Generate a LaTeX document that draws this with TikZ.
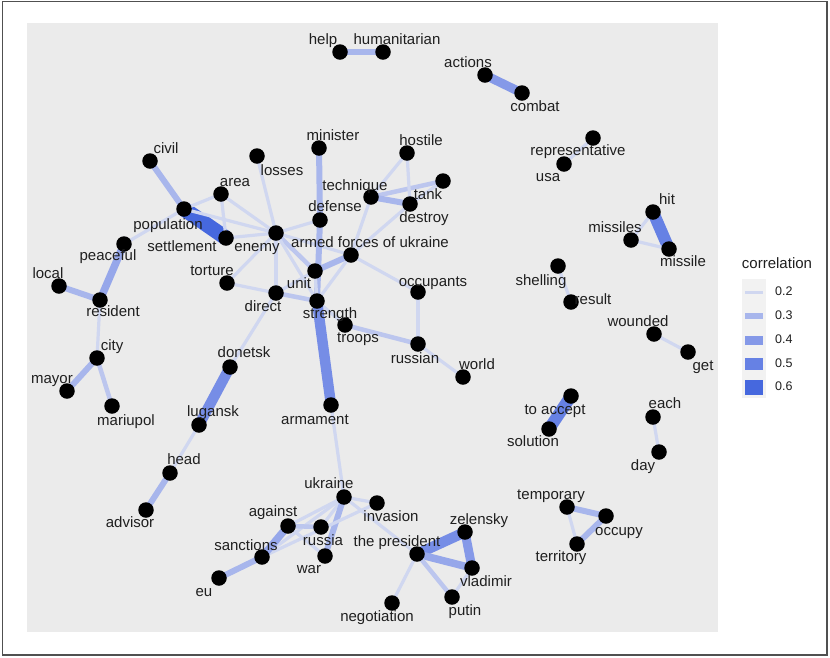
\documentclass[tikz,border=0pt]{standalone}
\usepackage{fontspec}
\setmainfont{Liberation Sans}
\pgfdeclarelayer{bg}
\pgfdeclarelayer{edges}
\pgfsetlayers{bg,edges,main}
\definecolor{cA}{RGB}{208,215,240}
\definecolor{cB}{RGB}{188,198,238}
\definecolor{cC}{RGB}{168,182,236}
\definecolor{cD}{RGB}{150,167,234}
\definecolor{cE}{RGB}{133,153,232}
\definecolor{cF}{RGB}{118,141,230}
\definecolor{cG}{RGB}{102,129,228}
\definecolor{cH}{RGB}{70,104,222}
\definecolor{panelgray}{RGB}{235,235,235}
\definecolor{keygray}{RGB}{242,242,242}
\definecolor{framegray}{RGB}{80,80,80}
\newcommand\edg[3]{\draw[#1] (#2.center) -- (#3.center);}
\begin{document}
\begin{tikzpicture}[x={(1pt,0pt)},y={(0pt,-1pt)},
  dot/.style={circle,fill=black,inner sep=0pt,minimum size=15.5pt},
  lbl/.style={inner sep=0pt,text height=10.8pt,text depth=3.1pt,font=\fontsize{15}{18}\selectfont,text=black!88},
  klbl/.style={inner sep=0pt,anchor=west,text height=9pt,text depth=2.5pt,font=\fontsize{12.5}{15}\selectfont,text=black!88},
  ea/.style={cA,line width=3.2pt},
  eb/.style={cB,line width=4.5pt},
  ec/.style={cC,line width=6pt},
  ed/.style={cD,line width=7.5pt},
  ee/.style={cE,line width=9pt},
  ef/.style={cF,line width=10.5pt},
  eg/.style={cG,line width=12pt},
  eh/.style={cH,line width=15pt}]
\useasboundingbox (0,0) rectangle (830,657);
\begin{pgfonlayer}{bg}
\fill[white] (0,0) rectangle (830,657);
\draw[framegray,line width=1.5pt] (2.5,1.5) rectangle (827,655);
\fill[panelgray] (27,23) rectangle (718,632);
\end{pgfonlayer}

% dots
\node[dot] (help) at (340,52) {};
\node[dot] (humanitarian) at (383,52) {};
\node[dot] (actions) at (485,75) {};
\node[dot] (combat) at (522,93) {};
\node[dot] (civil) at (150,161) {};
\node[dot] (losses) at (257,156) {};
\node[dot] (area) at (221,194) {};
\node[dot] (population) at (184,209) {};
\node[dot] (settlement) at (226,238) {};
\node[dot] (enemy) at (276,233) {};
\node[dot] (peaceful) at (124,244) {};
\node[dot] (local) at (59,286) {};
\node[dot] (resident) at (100,300) {};
\node[dot] (torture) at (227,283) {};
\node[dot] (direct) at (276,293) {};
\node[dot] (unit) at (315,271) {};
\node[dot] (minister) at (319,148) {};
\node[dot] (hostile) at (407,153) {};
\node[dot] (technique) at (371,197) {};
\node[dot] (tank) at (443,181) {};
\node[dot] (destroy) at (410,204) {};
\node[dot] (defense) at (320,220) {};
\node[dot] (afu) at (351,255) {};
\node[dot] (strength) at (317,301) {};
\node[dot] (occupants) at (418,292) {};
\node[dot] (troops) at (345,325) {};
\node[dot] (russian) at (418,344) {};
\node[dot] (world) at (463,377) {};
\node[dot] (armament) at (331,405) {};
\node[dot] (city) at (97,358) {};
\node[dot] (mayor) at (67,391) {};
\node[dot] (mariupol) at (112,406) {};
\node[dot] (donetsk) at (230,367) {};
\node[dot] (lugansk) at (199,425) {};
\node[dot] (head) at (170,473) {};
\node[dot] (advisor) at (146,510) {};
\node[dot] (ukraine) at (344,497) {};
\node[dot] (invasion) at (377,503) {};
\node[dot] (against) at (288,526) {};
\node[dot] (russia) at (321,527) {};
\node[dot] (sanctions) at (262,557) {};
\node[dot] (war) at (325,556) {};
\node[dot] (eu) at (219,578) {};
\node[dot] (president) at (417,554) {};
\node[dot] (zelensky) at (465,532) {};
\node[dot] (vladimir) at (472,568) {};
\node[dot] (putin) at (452,597) {};
\node[dot] (negotiation) at (392,603) {};
\node[dot] (temporary) at (567,507) {};
\node[dot] (occupy) at (606,516) {};
\node[dot] (territory) at (577,544) {};
\node[dot] (representative) at (593,138) {};
\node[dot] (usa) at (564,164) {};
\node[dot] (hit) at (653,212) {};
\node[dot] (missiles) at (631,240) {};
\node[dot] (missile) at (669,249) {};
\node[dot] (shelling) at (558,266) {};
\node[dot] (result) at (571,302) {};
\node[dot] (wounded) at (654,334) {};
\node[dot] (get) at (688,352) {};
\node[dot] (toaccept) at (571,396) {};
\node[dot] (solution) at (549,429) {};
\node[dot] (each) at (653,417) {};
\node[dot] (day) at (659,452) {};

% edges
\begin{pgfonlayer}{edges}
\edg{ec}{help}{humanitarian}
\edg{ee}{actions}{combat}
\edg{ea}{representative}{usa}
\edg{eg}{hit}{missile}
\edg{ea}{hit}{missiles}
\edg{ea}{missiles}{missile}
\edg{ea}{shelling}{result}
\edg{ea}{wounded}{get}
\edg{eg}{toaccept}{solution}
\edg{ea}{each}{day}
\edg{ec}{temporary}{occupy}
\edg{ec}{occupy}{territory}
\edg{ea}{temporary}{territory}
\edg{ec}{civil}{population}
\edg{eh}{population}{settlement}
\edg{ea}{population}{peaceful}
\edg{ed}{peaceful}{resident}
\edg{ec}{local}{resident}
\edg{ea}{resident}{city}
\edg{ec}{city}{mayor}
\edg{eb}{city}{mariupol}
\edg{ea}{population}{area}
\edg{ea}{population}{enemy}
\edg{ea}{settlement}{enemy}
\edg{ea}{area}{settlement}
\edg{ea}{area}{enemy}
\edg{ea}{losses}{enemy}
\edg{ea}{enemy}{defense}
\edg{ea}{enemy}{afu}
\edg{eb}{enemy}{unit}
\edg{ea}{enemy}{direct}
\edg{ea}{enemy}{strength}
\edg{ea}{torture}{enemy}
\edg{ea}{torture}{direct}
\edg{ea}{direct}{unit}
\edg{eb}{direct}{strength}
\edg{ea}{direct}{donetsk}
\edg{ec}{minister}{defense}
\edg{ec}{defense}{strength}
\edg{ec}{unit}{afu}
\edg{ea}{unit}{strength}
\edg{ea}{strength}{afu}
\edg{ea}{afu}{technique}
\edg{ea}{afu}{destroy}
\edg{ea}{afu}{occupants}
\edg{eb}{technique}{tank}
\edg{ec}{technique}{destroy}
\edg{ea}{hostile}{destroy}
\edg{ea}{hostile}{technique}
\edg{ea}{destroy}{tank}
\edg{ea}{strength}{troops}
\edg{eb}{troops}{russian}
\edg{ea}{russian}{occupants}
\edg{ea}{russian}{world}
\edg{ef}{strength}{armament}
\edg{ea}{armament}{ukraine}
\edg{ef}{donetsk}{lugansk}
\edg{ea}{lugansk}{head}
\edg{ec}{head}{advisor}
\edg{ea}{ukraine}{invasion}
\edg{ea}{ukraine}{against}
\edg{ea}{ukraine}{russia}
\edg{ec}{ukraine}{war}
\edg{ea}{ukraine}{sanctions}
\edg{ea}{ukraine}{president}
\edg{ea}{sanctions}{invasion}
\edg{ed}{against}{sanctions}
\edg{ec}{sanctions}{eu}
\edg{eb}{against}{russia}
\edg{ea}{against}{war}
\edg{ef}{president}{zelensky}
\edg{ee}{zelensky}{vladimir}
\edg{ed}{president}{vladimir}
\edg{eb}{president}{putin}
\edg{ea}{vladimir}{putin}
\edg{ea}{president}{negotiation}
\end{pgfonlayer}

% labels
\node[lbl] (helpL) at (323,41) {help};
\node[lbl] (humanitarianL) at (397,41) {humanitarian};
\node[lbl] (actionsL) at (468,64) {actions};
\node[lbl] (combatL) at (535,108) {combat};
\node[lbl] (civilL) at (166,150) {civil};
\node[lbl] (lossesL) at (282,172) {losses};
\node[lbl] (areaL) at (235,183) {area};
\node[lbl] (populationL) at (168,226) {population};
\node[lbl] (settlementL) at (182,248) {settlement};
\node[lbl] (enemyL) at (257,248) {enemy};
\node[lbl] (peacefulL) at (108,257) {peaceful};
\node[lbl] (localL) at (48,275) {local};
\node[lbl] (residentL) at (113,313) {resident};
\node[lbl] (tortureL) at (212,272) {torture};
\node[lbl] (directL) at (263,308) {direct};
\node[lbl] (unitL) at (299,285) {unit};
\node[lbl] (ministerL) at (333,137) {minister};
\node[lbl] (hostileL) at (421,142) {hostile};
\node[lbl] (techniqueL) at (355,187) {technique};
\node[lbl] (tankL) at (428,196) {tank};
\node[lbl] (destroyL) at (424,219) {destroy};
\node[lbl] (defenseL) at (335,208) {defense};
\node[lbl] (afuL) at (370,244) {armed forces of ukraine};
\node[lbl] (strengthL) at (330,315) {strength};
\node[lbl] (occupantsL) at (433,283) {occupants};
\node[lbl] (troopsL) at (358,339) {troops};
\node[lbl] (russianL) at (415,360) {russian};
\node[lbl] (worldL) at (477,366) {world};
\node[lbl] (armamentL) at (315,421) {armament};
\node[lbl] (cityL) at (112,347) {city};
\node[lbl] (mayorL) at (52,380) {mayor};
\node[lbl] (mariupolL) at (126,422) {mariupol};
\node[lbl] (donetskL) at (244,354) {donetsk};
\node[lbl] (luganskL) at (213,413) {lugansk};
\node[lbl] (headL) at (184,461) {head};
\node[lbl] (advisorL) at (130,524) {advisor};
\node[lbl] (ukraineL) at (329,485) {ukraine};
\node[lbl] (invasionL) at (391,518) {invasion};
\node[lbl] (againstL) at (273,513) {against};
\node[lbl] (russiaL) at (323,542) {russia};
\node[lbl] (sanctionsL) at (246,547) {sanctions};
\node[lbl] (warL) at (309,570) {war};
\node[lbl] (euL) at (204,593) {eu};
\node[lbl] (presidentL) at (397,543) {the president};
\node[lbl] (zelenskyL) at (479,521) {zelensky};
\node[lbl] (vladimirL) at (486,583) {vladimir};
\node[lbl] (putinL) at (465,612) {putin};
\node[lbl] (negotiationL) at (377,618) {negotiation};
\node[lbl] (temporaryL) at (551,496) {temporary};
\node[lbl] (occupyL) at (619,532) {occupy};
\node[lbl] (territoryL) at (561,558) {territory};
\node[lbl] (representativeL) at (578,152) {representative};
\node[lbl] (usaL) at (548,178) {usa};
\node[lbl] (hitL) at (667,201) {hit};
\node[lbl] (missilesL) at (615,229) {missiles};
\node[lbl] (missileL) at (683,263) {missile};
\node[lbl] (shellingL) at (541,282) {shelling};
\node[lbl] (resultL) at (593,301) {result};
\node[lbl] (woundedL) at (638,323) {wounded};
\node[lbl] (getL) at (703,367) {get};
\node[lbl] (toacceptL) at (555,411) {to accept};
\node[lbl] (solutionL) at (533,443) {solution};
\node[lbl] (eachL) at (665,405) {each};
\node[lbl] (dayL) at (643,467) {day};

% legend
\node[lbl] (legtitle) at (777,265) {correlation};
\fill[keygray] (742,279) rectangle (766,398);
\draw[cA,line width=3pt] (745,292) -- (763,292);
\draw[cC,line width=6pt] (745,316) -- (763,316);
\draw[cE,line width=9pt] (745,340) -- (763,340);
\draw[cG,line width=12pt] (745,364) -- (763,364);
\draw[cH,line width=15pt] (745,387) -- (763,387);
\node[klbl] (k2) at (775,292) {0.2};
\node[klbl] (k3) at (775,316) {0.3};
\node[klbl] (k4) at (775,340) {0.4};
\node[klbl] (k5) at (775,364) {0.5};
\node[klbl] (k6) at (775,387) {0.6};
\end{tikzpicture}
\end{document}
